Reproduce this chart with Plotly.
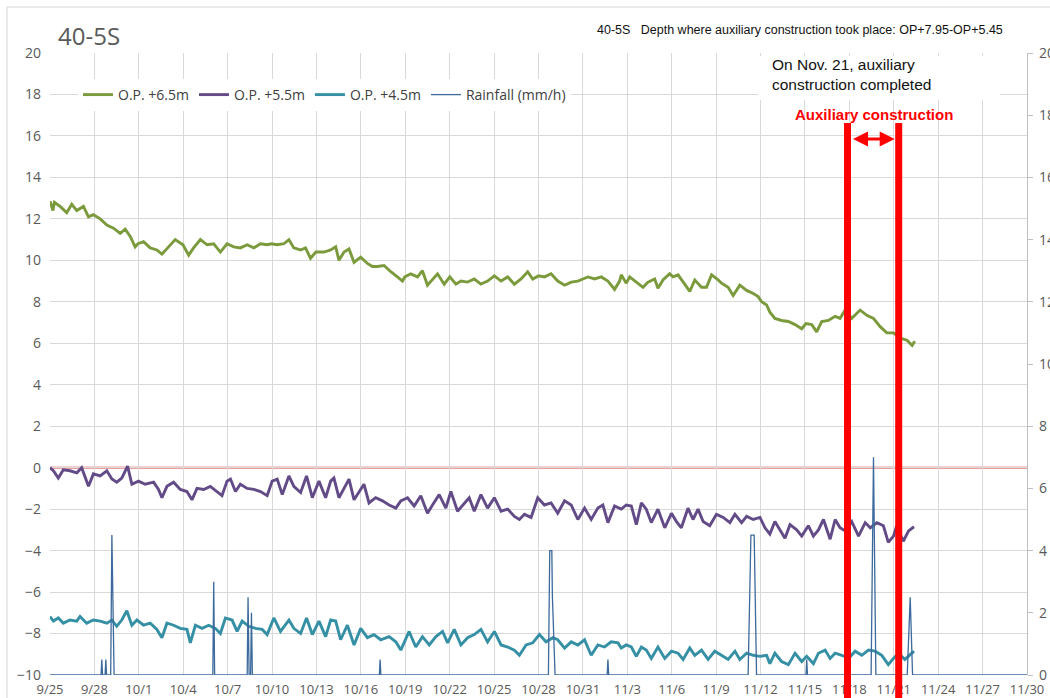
import pandas as pd
import plotly.graph_objects as go

START = pd.Timestamp("2019-09-25")

# ---- data: day offsets from 9/25 and readings ----
green_day = [0.0, 0.2, 0.3, 0.68, 1.13, 1.47, 1.81, 2.26, 2.6, 2.93, 3.39, 3.84, 4.29, 4.74, 5.08, 5.42, 5.75, 5.94,
             6.32, 6.77, 7.22, 7.56, 8.01, 8.46, 8.98, 9.37, 9.7, 10.16, 10.61, 11.06, 11.51, 11.96, 12.41, 12.86,
             13.32, 13.77, 14.22, 14.67, 14.96, 15.35, 15.8, 16.14, 16.47, 16.93, 17.26, 17.6, 17.96, 18.51,
             18.96, 19.3, 19.52, 19.86, 20.2, 20.54, 20.99, 21.44, 21.78, 22.12, 22.57, 23.02, 23.47, 23.81, 23.97,
             24.37, 24.83, 25.16, 25.5, 25.95, 26.18, 26.63, 27.01, 27.42, 27.76, 28.21, 28.66, 29.11, 29.56, 30.02,
             30.47, 30.92, 31.37, 31.82, 32.27, 32.61, 33.0, 33.4, 33.85, 34.3, 34.76, 35.21, 35.66, 36.0, 36.34,
             36.79, 37.24, 37.69, 38.14, 38.48, 38.59, 38.93, 39.16, 39.61, 40.06, 40.4, 40.85, 41.07, 41.41, 41.86,
             42.09, 42.43, 42.77, 43.22, 43.56, 44.01, 44.35, 44.69, 45.07, 45.36, 45.81, 46.15, 46.6, 47.06, 47.51,
             47.84, 48.07, 48.41, 48.63, 48.97, 49.42, 49.88, 50.33, 50.78, 51.07, 51.46, 51.79, 52.13, 52.58, 53.04,
             53.37, 53.71, 54.16, 54.73, 55.18, 55.63, 56.08, 56.53, 56.98, 57.44, 57.89, 58.24, 58.42]
green_val = [12.85, 12.4, 12.8, 12.6, 12.3, 12.7, 12.4, 12.6, 12.1, 12.2, 12.0, 11.7, 11.55, 11.3, 11.5, 11.15, 10.65, 10.8,
             10.9, 10.6, 10.5, 10.3, 10.65, 11.0, 10.75, 10.25, 10.6, 11.0, 10.75, 10.8, 10.4, 10.8, 10.65, 10.6,
             10.75, 10.6, 10.8, 10.75, 10.8, 10.75, 10.8, 11.0, 10.6, 10.5, 10.6, 10.1, 10.4, 10.4,
             10.5, 10.65, 10.0, 10.4, 10.55, 9.9, 10.15, 9.85, 9.7, 9.7, 9.75, 9.45, 9.2, 9.0, 9.2,
             9.35, 9.2, 9.5, 8.8, 9.2, 9.35, 8.85, 9.2, 8.85, 9.0, 8.95, 9.1, 8.85, 9.0, 9.25,
             9.0, 9.2, 8.85, 9.1, 9.45, 9.1, 9.25, 9.2, 9.35, 9.0, 8.8, 8.95, 9.0, 9.1, 9.2,
             9.1, 9.2, 9.0, 8.6, 9.0, 9.3, 8.9, 9.2, 8.95, 8.7, 8.95, 9.1, 8.65, 9.05, 9.35,
             9.2, 9.3, 8.95, 8.5, 9.05, 8.7, 8.7, 9.3, 9.1, 8.9, 8.7, 8.3, 8.8, 8.55, 8.4,
             8.25, 8.0, 7.85, 7.5, 7.2, 7.1, 7.05, 6.9, 6.7, 6.95, 6.9, 6.55, 7.05, 7.1, 7.3,
             7.2, 7.6, 7.2, 7.6, 7.35, 7.2, 6.8, 6.5, 6.5, 6.25, 6.15, 5.9, 6.1]

purple_day = [0.0, 0.23, 0.56, 0.9, 1.35, 1.81, 2.14, 2.6, 2.93, 3.39, 3.84, 4.18, 4.51, 4.85, 5.24, 5.53, 5.98, 6.43,
              7.0, 7.33, 7.56, 7.9, 8.35, 8.8, 9.25, 9.59, 9.93, 10.38, 10.83, 11.28, 11.62, 11.96, 12.19, 12.53,
              12.86, 13.32, 13.77, 14.22, 14.67, 15.01, 15.35, 15.69, 16.14, 16.47, 16.93, 17.33, 17.72, 18.17, 18.62,
              18.96, 19.18, 19.52, 19.86, 20.2, 20.54, 20.88, 21.21, 21.55, 22.0, 22.46, 22.91, 23.36, 23.7, 24.15,
              24.6, 25.05, 25.5, 25.84, 26.29, 26.74, 27.08, 27.53, 27.98, 28.32, 28.66, 29.11, 29.56, 30.02, 30.47,
              30.92, 31.37, 31.71, 32.05, 32.5, 32.95, 33.4, 33.85, 34.3, 34.76, 35.21, 35.66, 36.11, 36.56, 37.01,
              37.35, 37.69, 38.14, 38.59, 38.93, 39.27, 39.61, 39.95, 40.28, 40.62, 41.07, 41.53, 41.98, 42.32, 42.65,
              43.1, 43.44, 43.78, 44.12, 44.57, 45.02, 45.48, 45.93, 46.27, 46.72, 47.06, 47.51, 47.96, 48.3, 48.63,
              48.97, 49.31, 49.65, 49.99, 50.44, 50.78, 51.23, 51.57, 51.91, 52.25, 52.7, 53.04, 53.37, 53.71, 54.16,
              54.62, 55.07, 55.41, 55.86, 56.3, 56.63, 56.98, 57.2, 57.64, 58.0, 58.37]
purple_val = [0.0, -0.15, -0.5, -0.1, -0.15, -0.25, 0.0, -0.9, -0.3, -0.4, -0.15, -0.55, -0.7, -0.5, 0.08, -0.8, -0.65, -0.8,
              -0.7, -1.05, -1.45, -0.9, -0.7, -1.05, -1.15, -1.55, -1.0, -1.05, -0.9, -1.15, -1.35, -0.65, -0.55, -1.15,
              -0.8, -1.0, -1.05, -1.15, -1.35, -0.65, -0.55, -1.3, -0.4, -0.9, -1.2, -0.4, -1.45, -0.65, -1.45,
              -0.65, -0.5, -1.45, -1.0, -0.55, -1.55, -1.15, -0.8, -1.7, -1.45, -1.6, -1.8, -1.95, -1.6, -1.45,
              -1.85, -1.35, -2.2, -1.8, -1.3, -1.95, -1.15, -2.1, -1.7, -1.45, -2.1, -1.3, -1.95, -1.45, -2.1,
              -2.0, -2.35, -2.5, -2.25, -2.4, -1.45, -1.8, -1.7, -2.2, -1.6, -1.8, -2.5, -1.95, -2.5, -1.95,
              -1.8, -2.65, -1.85, -2.0, -1.8, -1.85, -2.75, -1.7, -2.0, -2.65, -2.0, -2.9, -2.2, -2.6, -2.9,
              -1.95, -2.5, -2.0, -2.6, -2.8, -2.25, -2.4, -2.65, -2.25, -2.65, -2.35, -2.5, -2.4, -2.9, -3.2,
              -2.6, -3.0, -3.4, -2.75, -3.0, -3.3, -2.8, -3.3, -3.0, -2.5, -3.45, -2.5, -2.9, -3.05, -2.6,
              -3.3, -2.65, -2.9, -2.65, -2.8, -3.6, -3.3, -2.8, -3.55, -3.05, -2.85]

teal_day = [0.0, 0.23, 0.56, 0.9, 1.35, 1.81, 2.03, 2.48, 2.93, 3.39, 3.84, 4.18, 4.51, 4.85, 5.19, 5.53, 5.87, 6.32,
            6.77, 7.22, 7.56, 7.9, 8.35, 8.8, 9.25, 9.48, 9.82, 10.27, 10.72, 11.17, 11.51, 11.85, 12.3, 12.64, 12.98,
            13.43, 13.88, 14.33, 14.67, 15.12, 15.57, 16.14, 16.47, 16.93, 17.33, 17.72, 18.17, 18.62,
            18.96, 19.3, 19.63, 20.09, 20.54, 20.99, 21.44, 21.89, 22.34, 22.91, 23.36, 23.7, 24.26, 24.71, 25.16,
            25.62, 26.07, 26.52, 26.86, 27.31, 27.76, 28.21, 28.66, 29.11, 29.56, 30.02, 30.47, 30.92, 31.37, 31.71,
            32.16, 32.61, 33.06, 33.51, 33.97, 34.3, 34.76, 35.21, 35.66, 36.11, 36.56, 37.01, 37.46, 37.91, 38.37,
            38.59, 38.93, 39.27, 39.61, 39.95, 40.28, 40.62, 41.07, 41.53, 41.98, 42.43, 42.77, 43.22, 43.56, 44.01,
            44.46, 44.91, 45.36, 45.81, 46.27, 46.6, 47.06, 47.51, 47.96, 48.41, 48.63, 48.97, 49.42, 49.88, 50.33,
            50.78, 51.12, 51.57, 51.91, 52.36, 52.7, 53.04, 53.49, 53.94, 54.39, 54.84, 55.29, 55.74, 56.19, 56.63,
            56.98, 57.32, 57.75, 58.1, 58.37]
teal_val = [-7.18, -7.4, -7.25, -7.5, -7.35, -7.4, -7.18, -7.5, -7.35, -7.4, -7.5, -7.35, -7.65, -7.35, -6.9, -7.6, -7.35, -7.6,
            -7.5, -7.8, -8.2, -7.5, -7.6, -7.75, -7.8, -8.45, -7.6, -7.75, -7.6, -7.75, -8.0, -7.25, -7.35, -7.9, -7.4,
            -7.65, -7.75, -7.8, -8.05, -7.25, -7.9, -7.35, -7.75, -8.0, -7.25, -8.05, -7.4, -8.15,
            -7.35, -7.4, -8.3, -7.6, -8.55, -7.75, -8.2, -8.05, -8.3, -8.15, -8.4, -8.8, -7.9, -8.65, -8.15,
            -8.55, -8.15, -7.9, -8.45, -7.8, -8.55, -8.2, -8.05, -7.8, -8.4, -7.9, -8.55, -8.65, -8.8, -9.05,
            -8.55, -8.45, -8.05, -8.4, -8.2, -8.3, -8.7, -8.4, -8.55, -8.3, -9.05, -8.55, -8.65, -8.4, -8.45,
            -8.7, -8.55, -8.65, -9.1, -8.65, -8.8, -9.2, -8.65, -9.2, -8.85, -8.95, -9.25, -8.7, -9.05, -8.8,
            -9.25, -8.85, -9.05, -9.25, -8.85, -9.25, -8.95, -9.05, -9.1, -9.05, -9.45, -8.95, -9.35, -9.5, -8.95,
            -9.35, -9.1, -9.45, -8.95, -8.8, -9.2, -8.95, -9.05, -9.2, -8.85, -9.05, -8.8, -8.85, -9.05, -9.5,
            -9.2, -8.95, -9.25, -9.05, -8.85]

rain_day = [0.0, 3.45, 3.5, 3.55, 3.72, 3.77, 3.82, 4.1, 4.18, 4.27, 4.33, 11.0, 11.06, 11.12, 13.32, 13.38, 13.45,
            13.55, 13.61, 13.67, 22.25, 22.3, 22.35, 33.67, 33.76, 33.9, 33.94, 34.12, 37.64, 37.69, 37.74, 47.16,
            47.35, 47.57, 47.73, 51.07, 51.12, 51.17, 55.47, 55.63, 55.79, 57.91, 58.11, 58.27, 66.0]
rain_val = [0, 0, 0.5, 0, 0, 0.5, 0, 0, 4.5, 1.5, 0, 0, 3.0, 0, 0, 2.5, 0,
            0, 2.0, 0, 0, 0.5, 0, 0, 4.0, 4.0, 2.5, 0, 0, 0.5, 0, 0,
            4.5, 4.5, 0, 0, 0.5, 0, 0, 7.0, 0, 0, 2.5, 0, 0]

construction_start = "2019-11-17 21:00"
construction_end = "2019-11-21 08:00"
arrow_level = 15.85
reference_level = 0

series_names = ["O.P. +6.5m", "O.P. +5.5m", "O.P. +4.5m", "Rainfall (mm/h)"]
series_colors = ["#7a9a3c", "#634b88", "#3590a5", "#3c6a9c"]


def to_dates(days):
    return START + pd.to_timedelta(days, unit="D")


fig = go.Figure()
for d, v, name, col in zip([green_day, purple_day, teal_day], [green_val, purple_val, teal_val],
                           series_names[:3], series_colors[:3]):
    fig.add_trace(go.Scatter(x=to_dates(d), y=v, mode="lines", name=name,
                             line=dict(color=col, width=2.9)))
fig.add_trace(go.Scatter(x=to_dates(rain_day), y=rain_val, mode="lines", name=series_names[3],
                         line=dict(color=series_colors[3], width=1.3), yaxis="y2"))

W, H = 1050, 698
L, R, T, B = 50, 23, 53, 23
pw, ph = W - L - R, H - T - B


def px(xp):
    return (xp - L) / pw


def py(yp):
    return (H - B - yp) / ph


tick_font = dict(family="Open Sans", size=14, color="#595959")
fig.update_layout(
    template="none",
    width=W, height=H,
    margin=dict(l=L, r=R, t=T, b=B, autoexpand=False),
    paper_bgcolor="white", plot_bgcolor="white",
    showlegend=True,
    legend=dict(orientation="h", x=px(78), y=py(95), xanchor="left", yanchor="middle",
                font=dict(family="Open Sans", size=14, color="#404040"),
                bgcolor="white", itemwidth=30, tracegroupgap=0),
    xaxis=dict(type="date", range=[START, START + pd.Timedelta(days=66)], automargin=False,
               tick0=START, dtick=3 * 86400000, tickformat="%-m/%-d",
               showgrid=True, gridcolor="#d9d9d9", gridwidth=1.3,
               showline=False, zeroline=False, ticks="",
               tickfont=dict(family="Open Sans", size=13, color="#595959"),
               ticklabelstandoff=5),
    yaxis=dict(range=[-10, 20], dtick=2, showgrid=True, gridcolor="#d9d9d9", gridwidth=1.3,
               zeroline=False, automargin=False,
               showline=False, ticks="", tickfont=tick_font, ticklabelstandoff=8),
    yaxis2=dict(range=[0, 20], dtick=2, overlaying="y", side="right", showgrid=False, automargin=False,
                zeroline=False, showline=True, linecolor="#bfbfbf", linewidth=1.3,
                ticks="outside", ticklen=5, tickcolor="#bfbfbf", tickfont=tick_font,
                ticklabelstandoff=3),
)

shapes = [
    # outer chart border
    dict(type="rect", xref="paper", yref="paper", x0=px(7), x1=1.2, y0=-0.3, y1=py(7),
         line=dict(color="#d4d4d4", width=1), fillcolor="rgba(0,0,0,0)", layer="below"),
    # red reference line at 0
    dict(type="line", xref="paper", yref="y", x0=0, x1=1, y0=reference_level, y1=reference_level,
         line=dict(color="#dc3c3c", width=1.6), layer="between"),
    # white box behind note
    dict(type="rect", xref="paper", yref="paper", x0=px(758), x1=px(1000), y0=py(100), y1=py(56),
         line=dict(width=0), fillcolor="white", layer="above"),
]
for d in [construction_start, construction_end]:
    shapes.append(dict(type="line", xref="x", yref="paper", x0=d, x1=d, y0=py(H + 5), y1=py(123),
                       line=dict(color="#ff0000", width=7), layer="above"))
fig.update_layout(shapes=shapes)

fig.add_annotation(xref="paper", yref="paper", x=px(56), y=py(35), xanchor="left", yanchor="middle",
                   text="40-5S", showarrow=False, font=dict(family="Open Sans", size=24, color="#595959"))
fig.add_annotation(xref="paper", yref="paper", x=px(1005), y=py(30), xanchor="right", yanchor="middle",
                   text="40-5S\u00a0\u00a0\u00a0Depth where auxiliary construction took place: OP+7.95-OP+5.45",
                   showarrow=False, font=dict(family="Liberation Sans", size=12.5, color="#111111"))
fig.add_annotation(xref="paper", yref="paper", x=px(770), y=py(75), xanchor="left", yanchor="middle",
                   text="On Nov. 21, auxiliary<br>construction completed", align="left",
                   showarrow=False, font=dict(family="Liberation Sans", size=15.5, color="#111111"))
fig.add_annotation(xref="paper", yref="paper", x=px(874), y=py(114), xanchor="center", yanchor="middle",
                   text="<b>Auxiliary construction</b>", showarrow=False,
                   font=dict(family="Liberation Sans", size=15, color="#ff0000"))
fig.add_annotation(xref="x", yref="y", x=construction_end, y=arrow_level,
                   axref="x", ayref="y", ax=construction_start, ay=arrow_level,
                   text="", showarrow=True, arrowhead=2, startarrowhead=2, arrowside="end+start",
                   arrowsize=1, arrowwidth=3, arrowcolor="#ff0000", standoff=4, startstandoff=4)

fig.write_html("out.html")
